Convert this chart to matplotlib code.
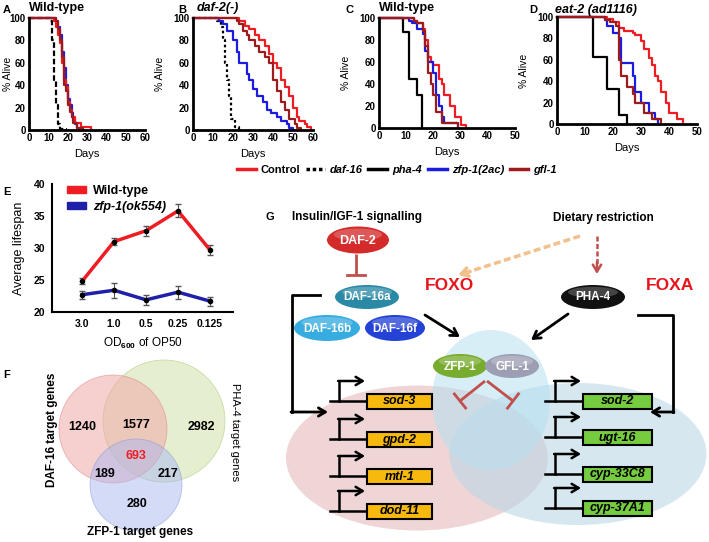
import matplotlib
matplotlib.use('Agg')
import matplotlib.pyplot as plt
import matplotlib.patches as mpatches
from matplotlib.lines import Line2D
import numpy as np

plt.rcParams['font.family'] = ['Liberation Sans', 'DejaVu Sans']
plt.rcParams['font.weight'] = 'bold'
plt.rcParams['mathtext.fontset'] = 'custom'
plt.rcParams['mathtext.rm'] = 'Liberation Sans:bold'
plt.rcParams['mathtext.bf'] = 'Liberation Sans:bold'

W, H = 709, 542

# ---- survival curves (day, % alive), steps ----
# A: wild-type
a_ctrl_day = [0, 13, 14, 15, 16, 17, 18, 19, 20, 21, 22, 24, 27, 32]
a_ctrl_pct = [100, 97, 92, 85, 78, 60, 45, 38, 25, 18, 12, 6, 3, 0]
a_daf16_day = [0, 11, 12, 13, 14, 15, 16, 19]
a_daf16_pct = [100, 97, 80, 45, 22, 5, 1, 0]
a_zfp1_day = [0, 14, 15, 16, 17, 18, 19, 20, 21, 22, 23, 24, 25, 26]
a_zfp1_pct = [100, 97, 92, 85, 70, 55, 40, 28, 22, 15, 10, 5, 2, 0]
a_gfl1_day = [0, 14, 15, 16, 17, 18, 19, 20, 21, 22, 23, 25, 28]
a_gfl1_pct = [100, 97, 90, 80, 65, 40, 35, 22, 16, 12, 6, 2, 0]

# B: daf-2(-)
b_ctrl_day = [0, 23, 26, 28, 31, 33, 36, 38, 40, 42, 44, 46, 48, 50, 52, 53, 56, 57, 59]
b_ctrl_pct = [100, 97, 93, 90, 85, 80, 75, 68, 60, 55, 45, 38, 30, 20, 12, 8, 5, 3, 0]
b_daf16_day = [0, 12, 14, 15, 16, 17, 18, 19, 21, 23]
b_daf16_pct = [100, 97, 92, 80, 60, 45, 30, 10, 3, 0]
b_zfp1_day = [0, 13, 15, 17, 20, 22, 23, 27, 28, 30, 32, 35, 37, 39, 42, 44, 47, 48, 50]
b_zfp1_pct = [100, 97, 95, 88, 80, 70, 60, 50, 45, 37, 30, 25, 18, 15, 12, 8, 5, 2, 0]
b_gfl1_day = [0, 22, 23, 25, 27, 28, 31, 33, 36, 38, 40, 42, 44, 46, 48, 51, 52, 54]
b_gfl1_pct = [100, 97, 95, 88, 85, 80, 75, 70, 65, 60, 45, 35, 25, 18, 10, 5, 2, 0]

# C: wild-type
c_ctrl_day = [0, 13, 14, 16, 17, 18, 19, 20, 22, 23, 24, 26, 28, 30, 32]
c_ctrl_pct = [100, 97, 95, 90, 80, 65, 60, 57, 45, 40, 30, 20, 10, 3, 0]
c_pha4_day = [0, 9, 11, 13.8, 15.7]
c_pha4_pct = [100, 87, 45, 30, 0]
c_zfp1_day = [0, 11, 12, 14, 16, 17, 18, 20, 21, 22, 23, 24, 29]
c_zfp1_pct = [100, 97, 95, 90, 85, 70, 60, 50, 30, 20, 10, 5, 0]
c_gfl1_day = [0, 13, 14, 16, 17, 18, 19, 20, 21, 23, 29]
c_gfl1_pct = [100, 97, 95, 88, 75, 50, 40, 30, 15, 5, 0]

# D: eat-2 (ad1116)
d_ctrl_day = [0, 18, 20, 22, 24, 27, 28, 30, 31, 33, 34, 35, 36, 37, 39, 40, 43, 45]
d_ctrl_pct = [100, 98, 95, 90, 87, 85, 83, 78, 70, 62, 55, 45, 40, 30, 20, 10, 5, 0]
d_pha4_day = [0, 13, 18, 22, 25]
d_pha4_pct = [100, 63, 33, 8, 0]
d_zfp1_day = [0, 17, 18, 20, 22, 23, 27, 28, 30, 33, 35, 36]
d_zfp1_pct = [100, 97, 92, 85, 80, 57, 45, 30, 20, 10, 5, 0]
d_gfl1_day = [0, 17, 19, 21, 22, 23, 25, 27, 28, 31, 34, 37]
d_gfl1_pct = [100, 97, 95, 92, 60, 45, 35, 28, 20, 10, 5, 0]

# ---- panel E ----
e_od = ['3.0', '1.0', '0.5', '0.25', '0.125']
e_wt = [24.8, 31.0, 32.7, 35.8, 29.7]
e_wt_err = [0.5, 0.6, 0.8, 1.0, 0.8]
e_zfp1 = [22.7, 23.4, 21.9, 23.1, 21.7]
e_zfp1_err = [0.6, 1.2, 0.8, 1.0, 0.7]

# ---- panel F (venn counts) ----
f_daf16_only = 1240
f_daf16_pha4 = 1577
f_pha4_only = 2982
f_all = 693
f_daf16_zfp1 = 189
f_pha4_zfp1 = 217
f_zfp1_only = 280

# ---- panel G gene names ----
g_foxo_genes = ['sod-3', 'gpd-2', 'mtl-1', 'dod-11']
g_foxa_genes = ['sod-2', 'ugt-16', 'cyp-33C8', 'cyp-37A1']

RED = '#ee1d23'
BLUE = '#1c1ce0'
DRED = '#9e1b1b'

fig = plt.figure(figsize=(W / 100, H / 100), dpi=100)


def px_axes(l, t, r, b):
    return fig.add_axes([l / W, 1 - b / H, (r - l) / W, (b - t) / H])


def surv_axes(l, t, r, b, xmax, ylab_off):
    ax = px_axes(l, t, r, b)
    ax.set_xlim(0, xmax)
    ax.set_ylim(0, 100)
    for s in ['top', 'right']:
        ax.spines[s].set_visible(False)
    for s in ['left', 'bottom']:
        ax.spines[s].set_linewidth(2)
    ax.tick_params(length=0, labelsize=7, pad=2.5)
    ax.set_xticks(range(0, xmax + 1, 10))
    ax.set_yticks(range(0, 101, 20))
    ax.set_ylabel('% Alive', fontsize=7.5)
    ax.yaxis.set_label_coords(ylab_off / (r - l), 0.5)
    ax.set_xlabel('Days', fontsize=8, labelpad=4)
    return ax


def curve(ax, d, p, color, ls='-'):
    ax.step(d, p, where='post', color=color, lw=1.6, ls=ls, clip_on=False)


axA = surv_axes(29, 18, 145, 130, 60, -16)
curve(axA, a_daf16_day, a_daf16_pct, 'k', (0, (2.5, 1.2)))
curve(axA, a_zfp1_day, a_zfp1_pct, BLUE)
curve(axA, a_ctrl_day, a_ctrl_pct, RED)
curve(axA, a_gfl1_day, a_gfl1_pct, DRED)

axB = surv_axes(193, 18, 313, 130, 60, -28)
curve(axB, b_daf16_day, b_daf16_pct, 'k', (0, (1.2, 1.2)))
curve(axB, b_zfp1_day, b_zfp1_pct, BLUE)
curve(axB, b_ctrl_day, b_ctrl_pct, RED)
curve(axB, b_gfl1_day, b_gfl1_pct, DRED)

axC = surv_axes(379, 18, 515, 128, 50, -28)
curve(axC, c_pha4_day, c_pha4_pct, 'k')
curve(axC, c_ctrl_day, c_ctrl_pct, RED)
curve(axC, c_zfp1_day, c_zfp1_pct, BLUE)
curve(axC, c_gfl1_day, c_gfl1_pct, DRED)

axD = surv_axes(557, 17, 697, 124, 50, -28)
curve(axD, d_pha4_day, d_pha4_pct, 'k')
curve(axD, d_ctrl_day, d_ctrl_pct, RED)
curve(axD, d_zfp1_day, d_zfp1_pct, BLUE)
curve(axD, d_gfl1_day, d_gfl1_pct, DRED)

# legend for A-D
handles = [Line2D([], [], color=RED, lw=2.5),
           Line2D([], [], color='k', lw=2.5, ls=(0, (1, 0.8))),
           Line2D([], [], color='k', lw=2.5),
           Line2D([], [], color=BLUE, lw=2.5),
           Line2D([], [], color=DRED, lw=2.5)]
leg = fig.legend(handles, ['Control', 'daf-16', 'pha-4', 'zfp-1(2ac)', 'gfl-1'],
                 loc='center', bbox_to_anchor=(397 / W, 1 - 170 / H), ncol=5,
                 frameon=False, fontsize=8, handlelength=1.7, handletextpad=0.45,
                 columnspacing=0.5, borderpad=0)
for t in leg.get_texts()[1:]:
    t.set_style('italic')

# ---- panel E ----
axE = px_axes(52, 184, 233, 312)
x = np.arange(len(e_od))
axE.errorbar(x, e_wt, yerr=e_wt_err, color=RED, lw=2.5, ecolor='#555555',
             elinewidth=0.8, capsize=2, label='Wild-type')
axE.errorbar(x, e_zfp1, yerr=e_zfp1_err, color='#1f1fa8', lw=2.5, ecolor='#555555',
             elinewidth=0.8, capsize=2, label='zfp-1(ok554)')
axE.plot(x, e_wt, 'o', color='k', ms=3, zorder=5)
axE.plot(x, e_zfp1, 'o', color='k', ms=3, zorder=5)
axE.set_xlim(-0.94, 4.72)
axE.set_ylim(20, 40)
axE.set_yticks([20, 25, 30, 35, 40])
axE.set_xticks(x)
axE.set_xticklabels(e_od)
for s in ['top', 'right']:
    axE.spines[s].set_visible(False)
axE.spines['left'].set_linewidth(1.5)
axE.spines['bottom'].set_linewidth(1.5)
axE.tick_params(length=0, labelsize=7.5, pad=5)
axE.set_ylabel('Average lifespan', fontsize=9, labelpad=6)
axE.set_xlabel(r'OD$_{600}$ of OP50', fontsize=8.5, labelpad=5)
eh = [mpatches.Patch(color=RED), mpatches.Patch(color='#1f1fa8')]
le = axE.legend(eh, ['Wild-type', 'zfp-1(ok554)'], loc='upper left',
                bbox_to_anchor=(0.02, 1.08), frameon=False, fontsize=9,
                handlelength=1.5, handleheight=0.5, handletextpad=0.6,
                labelspacing=0.3)
le.get_texts()[1].set_style('italic')

# ---- overlay for labels, F and G ----
ov = fig.add_axes([0, 0, 1, 1])
ov.set_xlim(0, W)
ov.set_ylim(H, 0)
ov.axis('off')
ov.patch.set_visible(False)

for lab, lx, ly in [('A', 3, 10), ('B', 178, 10), ('C', 345, 10), ('D', 529, 10),
                    ('E', 3, 192), ('F', 3, 375), ('G', 266, 217)]:
    ov.text(lx, ly, lab, fontsize=8, ha='left', va='center')

ov.text(29, 8, 'Wild-type', fontsize=9, ha='left', va='center')
ov.text(197, 8, 'daf-2(-)', fontsize=9, ha='left', va='center', style='italic')
ov.text(379, 8, 'Wild-type', fontsize=9, ha='left', va='center')
ov.text(555, 10, 'eat-2 (ad1116)', fontsize=9, ha='left', va='center', style='italic')

# Venn
ov.add_patch(mpatches.Circle((164, 421), 61, facecolor='#dbe9bd', edgecolor='#b8d08a',
                             lw=0.6, alpha=0.7))
ov.add_patch(mpatches.Circle((113, 429), 54, facecolor='#f0a8a8', edgecolor='#e08080',
                             lw=0.6, alpha=0.55))
ov.add_patch(mpatches.Circle((136, 485), 46, facecolor='#aab8f0', edgecolor='#8090d8',
                             lw=0.6, alpha=0.5))
vt = dict(fontsize=9, ha='center', va='center')
ov.text(82, 427, str(f_daf16_only), **vt)
ov.text(136, 425, str(f_daf16_pha4), **vt)
ov.text(201, 427, str(f_pha4_only), **vt)
ov.text(136, 456, str(f_all), color=RED, **vt)
ov.text(105, 474, str(f_daf16_zfp1), **vt)
ov.text(168, 474, str(f_pha4_zfp1), **vt)
ov.text(137, 504, str(f_zfp1_only), **vt)
ov.text(52, 430, 'DAF-16 target genes', fontsize=8.5, rotation=90, ha='center', va='center')
ov.text(235, 432, 'PHA-4 target genes', fontsize=8, rotation=-90, ha='center', va='center',
        fontweight='normal')
ov.text(140, 532, 'ZFP-1 target genes', fontsize=8.5, ha='center', va='center')

# ---- panel G ----
ov.text(292, 217, 'Insulin/IGF-1 signalling', fontsize=8.5, ha='left', va='center')
ov.text(553, 218, 'Dietary restriction', fontsize=8.5, ha='left', va='center')

# big background ellipses
ov.add_patch(mpatches.Ellipse((417, 458), 262, 145, facecolor='#e9c4c4', alpha=0.7,
                              edgecolor='none', zorder=1))
ov.add_patch(mpatches.Ellipse((578, 454), 257, 142, facecolor='#bcd8e6', alpha=0.6,
                              edgecolor='none', zorder=1))
ov.add_patch(mpatches.Ellipse((491, 400), 118, 140, facecolor='#b6e0f2', alpha=0.55,
                              edgecolor='none', zorder=1))


def node(cx, cy, w, h, color, label, fs=8.5, tc='white'):
    ov.add_patch(mpatches.Ellipse((cx, cy), w, h, facecolor=color, edgecolor='none', zorder=5))
    ov.add_patch(mpatches.Ellipse((cx, cy - h * 0.2), w * 0.78, h * 0.45, facecolor='white',
                                  alpha=0.22, edgecolor='none', zorder=5))
    ov.text(cx, cy + 0.5, label, color=tc, fontsize=fs, ha='center', va='center', zorder=6)


def inhibit(x0, y0, x1, y1, half=9, color='#c0504d'):
    ov.plot([x0, x1], [y0, y1], color=color, lw=2, zorder=4, solid_capstyle='butt')
    d = np.array([x1 - x0, y1 - y0], dtype=float)
    d /= np.hypot(*d)
    p = np.array([-d[1], d[0]]) * half
    ov.plot([x1 - p[0], x1 + p[0]], [y1 - p[1], y1 + p[1]], color=color, lw=2, zorder=4)


def arrow(x0, y0, x1, y1, color='k', lw=2):
    ov.annotate('', xy=(x1, y1), xytext=(x0, y0),
                arrowprops=dict(arrowstyle='->,head_length=0.5,head_width=0.3',
                                color=color, lw=lw, shrinkA=0, shrinkB=0), zorder=4)


node(358, 240, 62, 27, '#d42a2a', 'DAF-2', fs=9)
inhibit(356, 254, 356, 275)
node(367, 297, 64, 24, '#2a8aa6', 'DAF-16a')
node(327, 328, 66, 26, '#36ace0', 'DAF-16b')
node(395, 328, 60, 26, '#2443d6', 'DAF-16f')
node(593, 297, 64, 24, '#111111', 'PHA-4')
ov.text(425, 285, 'FOXO', color='#e8141b', fontsize=12.5, ha='left', va='center')
ov.text(646, 285, 'FOXA', color='#e8141b', fontsize=12.5, ha='left', va='center')

# dashed dietary restriction arrows
ov.plot([580, 468], [236, 272], color='#f3c08c', lw=2.5, ls=(0, (2, 1)), zorder=3)
arrow(470, 271.4, 458, 275, color='#f3c08c', lw=2.5)
ov.plot([597, 597], [236, 264], color='#c0504d', lw=1.8, ls=(0, (2, 1)), zorder=3)
arrow(597, 262, 597, 274, color='#c0504d', lw=1.8)

arrow(425, 315, 460, 337)
arrow(568, 314, 531, 340)

# brackets
ov.plot([320, 292, 292], [295, 295, 412], color='k', lw=2, zorder=4)
arrow(291, 412, 328, 412)
ov.plot([638, 673, 673], [315, 315, 412], color='k', lw=2, zorder=4)
arrow(674, 412, 650, 412)

node(460, 366, 54, 24, '#78ac2e', 'ZFP-1', fs=8.5)
node(512, 366, 54, 24, '#9c9eb4', 'GFL-1', fs=8.5)
inhibit(485, 381, 460, 401)
inhibit(487, 381, 513, 401)


def gene(name, x0, x1, cy, xh, xv, color):
    ov.plot([xh, x0], [cy, cy], color='k', lw=1.8, zorder=4)
    ov.plot([xv, xv], [cy, cy - 20], color='k', lw=1.8, zorder=4)
    arrow(xv - 0.9, cy - 20, xv + 26, cy - 20, lw=1.8)
    ov.add_patch(mpatches.Rectangle((x0, cy - 7.5), x1 - x0, 15, facecolor=color,
                                    edgecolor='k', lw=1.5, zorder=5))
    ov.text((x0 + x1) / 2, cy + 0.5, name, style='italic', fontsize=9, ha='center',
            va='center', zorder=6)


for name, cy in zip(g_foxo_genes, [401, 439, 476, 511]):
    gene(name, 367, 432, cy, 330, 339, '#f8b90f')
for name, cy in zip(g_foxa_genes, [401, 437, 474, 508]):
    gene(name, 583, 652, cy, 545, 555, '#75cc3f')

fig.savefig('out.png', dpi=100)
